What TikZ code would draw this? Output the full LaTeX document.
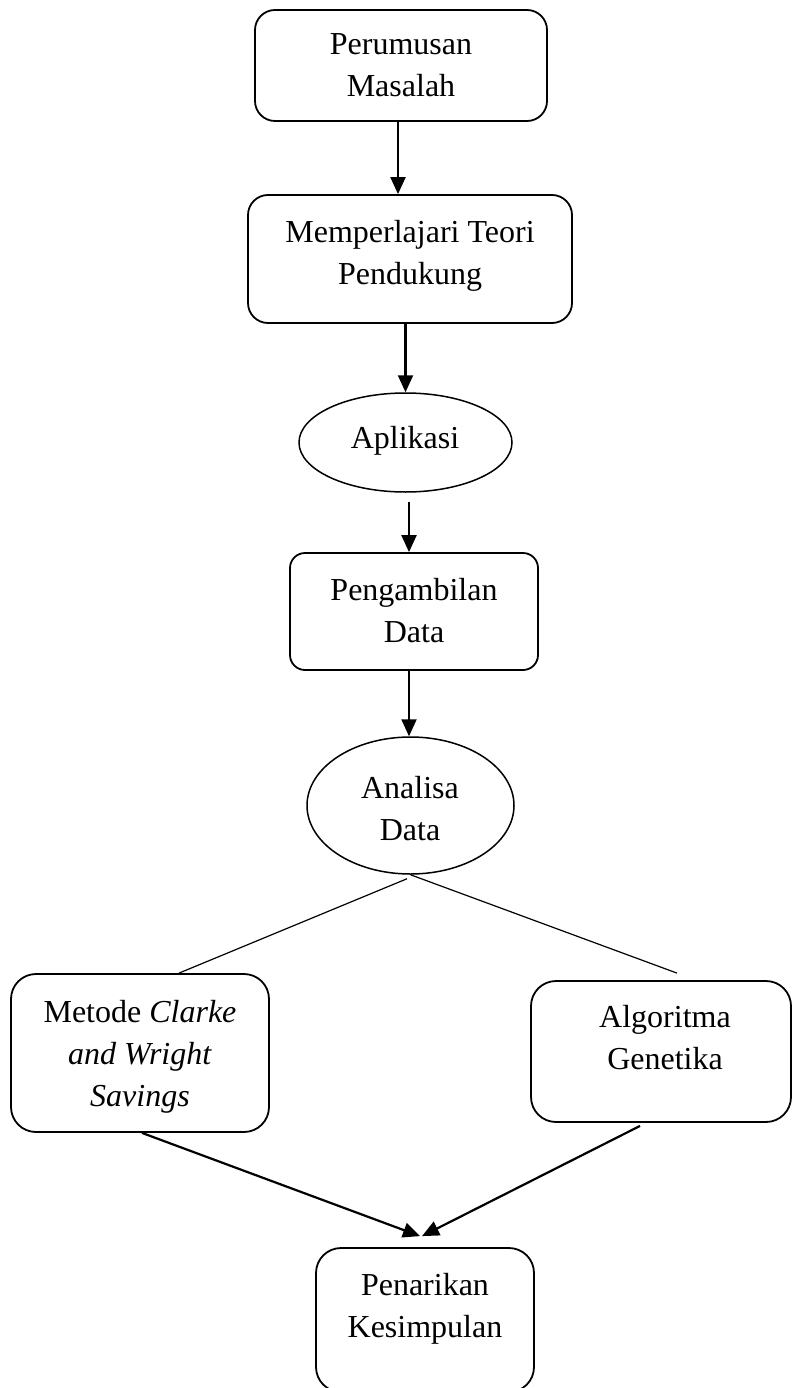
\documentclass[tikz,border=0pt]{standalone}
\usepackage{fontspec}
\setmainfont{Liberation Serif}
\usetikzlibrary{arrows.meta,shapes.geometric}
\newcommand{\twol}[2]{\begin{tabular}[t]{@{}c@{}}#1\\#2\end{tabular}}
\newcommand{\threel}[3]{\begin{tabular}[t]{@{}c@{}}#1\\#2\\#3\end{tabular}}
\begin{document}
\begin{tikzpicture}[x=1pt,y=-1pt,
  box/.style={draw, line width=1.8pt, rounded corners=#1, inner sep=0pt},
  box/.default=20pt,
  oval/.style={draw, ellipse, line width=1.5pt, inner sep=0pt},
  txt/.style={inner sep=0pt, anchor=base, font=\fontsize{32pt}{42pt}\selectfont},
  arr/.style={line width=2.2pt, -{Triangle[length=17pt,width=15pt]}},
  branch/.style={line width=1.2pt}]
\useasboundingbox (0,0) rectangle (792,1388);
\clip (0,0) rectangle (792,1388);

% shapes
\node[box=20pt, minimum width=292pt, minimum height=111pt] (perumusan) at (401,65.5) {};
\node[box=20pt, minimum width=324pt, minimum height=128pt] (teori) at (410,259) {};
\node[oval, minimum width=213pt, minimum height=99pt] (aplikasi) at (405.5,442.5) {};
\node[box=15pt, minimum width=248pt, minimum height=117pt] (pengambilan) at (414,611.5) {};
\node[oval, minimum width=207pt, minimum height=137pt] (analisa) at (410.5,805.5) {};
\node[box=25pt, minimum width=258pt, minimum height=158pt] (metode) at (140,1053) {};
\node[box=25pt, minimum width=260pt, minimum height=141pt] (algoritma) at (661,1051.5) {};
\node[box=25pt, minimum width=218pt, minimum height=144pt] (penarikan) at (425,1320) {};

% texts
\node[txt] (tperumusan) at (401,55) {\twol{Perumusan}{Masalah}};
\node[txt] (tteori) at (410,243) {\twol{Memperlajari Teori}{Pendukung}};
\node[txt] (taplikasi) at (405,448) {Aplikasi};
\node[txt] (tpengambilan) at (414,600) {\twol{Pengambilan}{Data}};
\node[txt] (tanalisa) at (410,798) {\twol{Analisa}{Data}};
\node[txt] (tmetode) at (140,1022) {\threel{Metode \textit{Clarke}}{\textit{and Wright}}{\textit{Savings}}};
\node[txt] (talgoritma) at (665,1027) {\twol{Algoritma}{Genetika}};
\node[txt] (tpenarikan) at (425,1295) {\twol{Penarikan}{Kesimpulan}};

% connectors
\draw[arr] ([xshift=-3pt]perumusan.south) -- ([xshift=-12pt]teori.north);
\draw[arr] ([xshift=-4.5pt]teori.south) -- (aplikasi.north);
\draw[arr] ([xshift=3.5pt,yshift=-9pt]aplikasi.south) -- ([xshift=-5pt]pengambilan.north);
\draw[arr] ([xshift=-5pt]pengambilan.south) -- ([xshift=-1.5pt]analisa.north);
\draw[branch] ([xshift=-3.5pt,yshift=-4pt]analisa.south) -- ([xshift=39pt]metode.north);
\coordinate (genend) at ([xshift=16pt,yshift=7pt]algoritma.north);
\draw[branch] (analisa.south) -- (genend);
\draw[arr] ([xshift=2pt]metode.south) -- ([xshift=-5pt,yshift=11pt]penarikan.north);
\draw[arr] ([xshift=-21pt,yshift=-3pt]algoritma.south) -- ([xshift=-3pt,yshift=11pt]penarikan.north);
\end{tikzpicture}
\end{document}
